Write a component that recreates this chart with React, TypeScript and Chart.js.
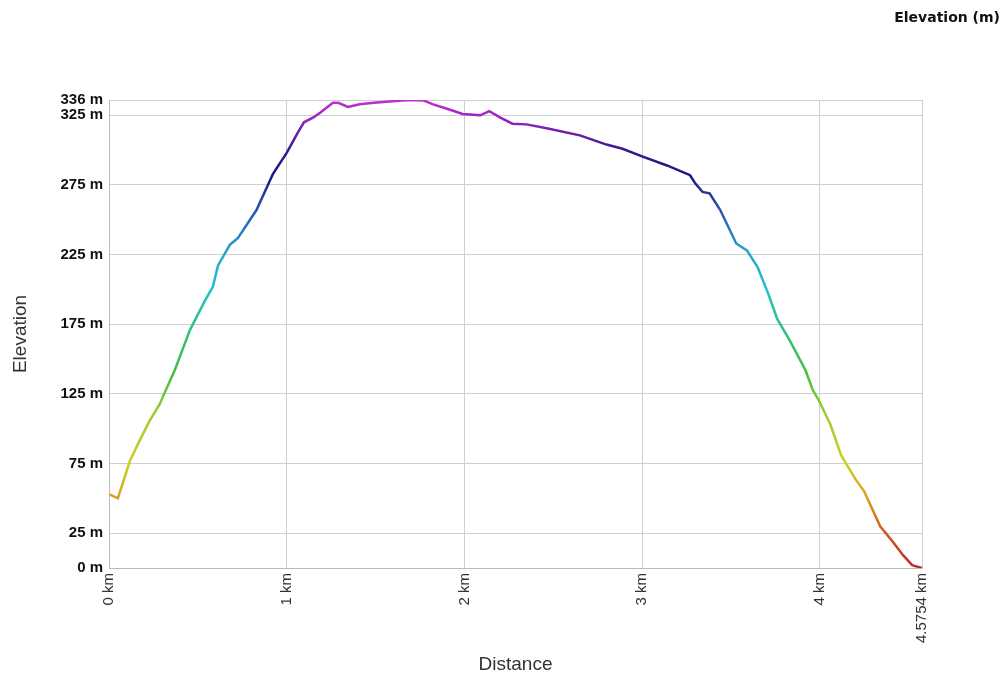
import React, { useEffect, useRef } from "react";
import { Chart, registerables } from "chart.js";

Chart.register(...registerables);

const distanceKm = [0, 0.05, 0.118, 0.174, 0.23, 0.287, 0.3, 0.37, 0.456, 0.54, 0.585, 0.613, 0.68, 0.726, 0.83, 0.923, 1.0, 1.06, 1.097, 1.15, 1.19, 1.26, 1.29, 1.345, 1.41, 1.49, 1.58, 1.65, 1.71, 1.77, 1.82, 1.92, 1.99, 2.09, 2.14, 2.2, 2.27, 2.35, 2.47, 2.65, 2.8, 2.89, 3.0, 3.14, 3.27, 3.3, 3.34, 3.38, 3.44, 3.53, 3.59, 3.65, 3.71, 3.76, 3.83, 3.92, 3.96, 4.0, 4.06, 4.12, 4.2, 4.25, 4.34, 4.41, 4.47, 4.52, 4.5754];
const elevationM = [53, 50, 77, 92, 106, 118, 122, 142, 171, 192, 202, 217, 232, 237, 257, 283, 298, 312, 320, 323.5, 327, 334, 334, 331, 333, 334, 335, 335.7, 336, 335.7, 333, 329, 326, 325, 328, 323.5, 319, 318.5, 315.6, 310.6, 304, 301, 295.5, 289, 282, 276, 270, 269, 257, 233, 228, 216, 197, 179, 163.6, 142, 128, 119, 103, 81, 64, 55, 30, 19, 9, 2, 0];

const xTicks = [0, 1, 2, 3, 4, 4.5754];
const yTicks = [0, 25, 75, 125, 175, 225, 275, 325, 336];

const colorStopElev = [0, 25, 50, 75, 110, 140, 175, 200, 225, 245, 262, 282, 300, 315, 330, 336];
const colorStopColor = ["#c0282a", "#c85a20", "#d9a020", "#c8d020", "#a0cc30", "#40c040", "#30c088", "#20c0c8", "#28a8c8", "#2a70c0", "#2848a8", "#181880", "#3a1890", "#7a20b0", "#b028c8", "#c030d0"];

export default function App() {
  const ref = useRef<HTMLCanvasElement | null>(null);
  useEffect(() => {
    if (!ref.current) return;
    Chart.defaults.font.family = "'Liberation Sans', Arial, sans-serif";
    const points = distanceKm.map((d, i) => ({ x: d, y: elevationM[i] }));
    const chart = new Chart(ref.current, {
      type: "line",
      data: {
        datasets: [
          {
            data: points,
            borderWidth: 2.5,
            pointRadius: 0,
            tension: 0,
            fill: false,
            borderColor: (ctx: any) => {
              const c = ctx.chart;
              const { chartArea, scales } = c;
              if (!chartArea || !scales.y) return "#a020c0";
              const y = scales.y;
              const g = c.ctx.createLinearGradient(0, y.getPixelForValue(0), 0, y.getPixelForValue(336));
              colorStopElev.forEach((e, i) => g.addColorStop(e / 336, colorStopColor[i]));
              return g;
            },
          },
        ],
      },
      options: {
        responsive: false,
        animation: false,
        devicePixelRatio: 1,
        layout: { padding: { left: 0, right: 7, top: 0, bottom: 0 } },
        plugins: {
          legend: { display: false },
          tooltip: { enabled: false },
          title: {
            display: true,
            text: "Elevation (m)",
            align: "end",
            color: "#111",
            font: { size: 14, weight: "bold", family: "'DejaVu Sans', sans-serif" },
            padding: { top: 10, bottom: 73.2 },
          },
        },
        scales: {
          x: {
            type: "linear",
            min: 0,
            max: 4.5754,
            afterBuildTicks: (s: any) => {
              s.ticks = xTicks.map((v) => ({ value: v }));
            },
            afterFit: (s: any) => {
              s.height = 112;
            },
            ticks: {
              autoSkip: false,
              maxRotation: 90,
              minRotation: 90,
              padding: 5,
              color: "#333",
              font: { size: 15 },
              callback: (v: any) => `${v} km`,
            },
            grid: { color: "#cfcfcf", drawTicks: false },
            border: { color: "#bbbbbb" },
            title: {
              display: true,
              text: "Distance",
              color: "#333",
              font: { size: 19 },
              padding: { top: 0, bottom: 4 },
            },
          },
          y: {
            type: "linear",
            min: 0,
            max: 336,
            afterBuildTicks: (s: any) => {
              s.ticks = yTicks.map((v) => ({ value: v }));
            },
            afterFit: (s: any) => {
              s.width = 109;
            },
            ticks: {
              autoSkip: false,
              padding: 6,
              color: "#111",
              font: { size: 15, weight: "bold" },
              callback: (v: any) => `${v} m`,
            },
            grid: { color: "#cfcfcf", drawTicks: false },
            border: { color: "#bbbbbb" },
            title: {
              display: true,
              text: "Elevation",
              color: "#333",
              font: { size: 19 },
              padding: { top: 9, bottom: 0 },
            },
          },
          y2: {
            position: "right",
            display: true,
            grid: { display: false },
            ticks: { display: false },
            border: { display: false },
            afterFit: (s: any) => {
              s.width = 78;
            },
          },
        },
      },
    });
    return () => chart.destroy();
  }, []);
  return (
    <div style={{ position: "absolute", left: 0, top: 0, width: 1007, height: 680, background: "#fff" }}>
      <canvas ref={ref} width={1007} height={680} />
    </div>
  );
}
